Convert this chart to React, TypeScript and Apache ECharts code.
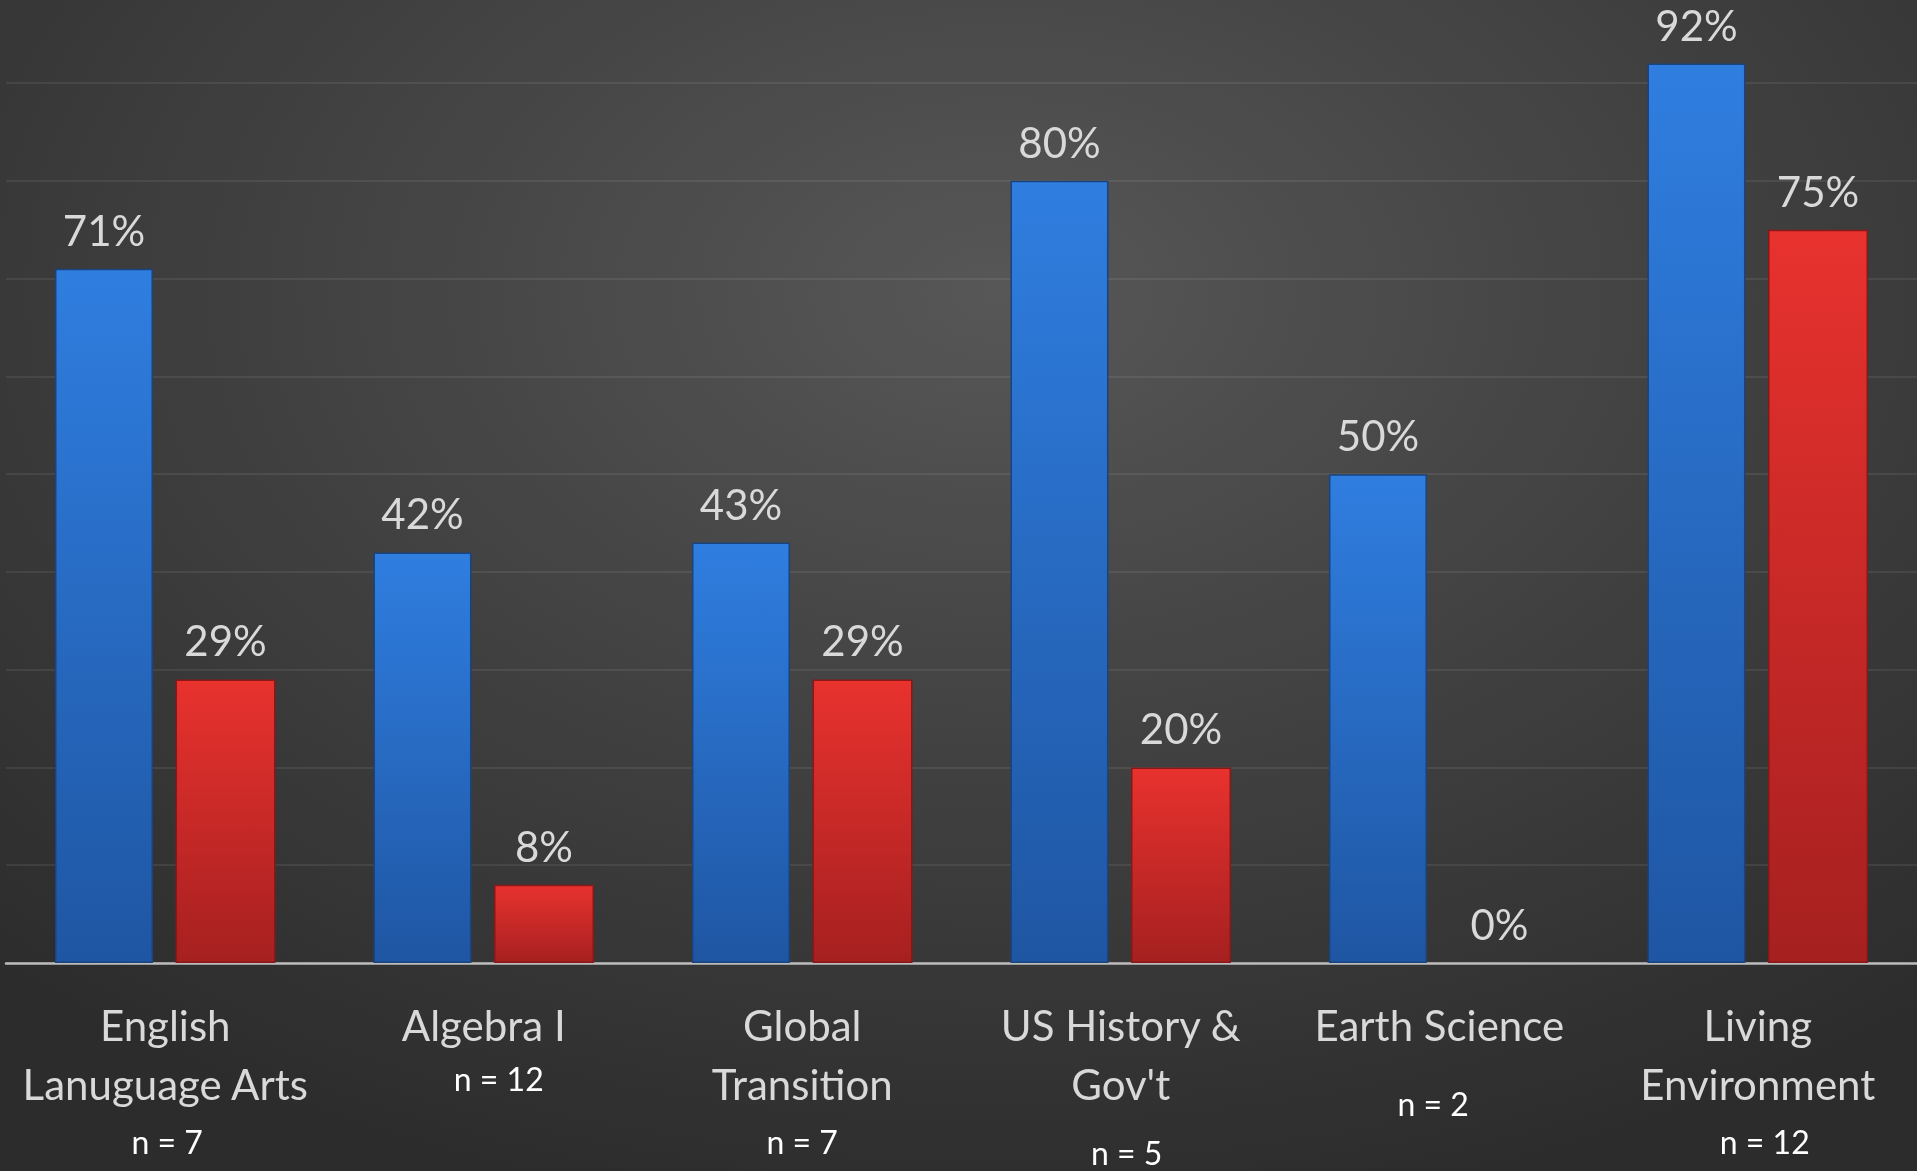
import React, { useEffect, useRef } from "react";
import * as echarts from "echarts";

const categories = ["English Lanuguage Arts", "Algebra I", "Global Transition", "US History & Gov't", "Earth Science", "Living Environment"];
const categoryLines = [["English", "Lanuguage Arts"], ["Algebra I"], ["Global", "Transition"], ["US History &", "Gov't"], ["Earth Science"], ["Living", "Environment"]];
const nLabels = ["n = 7", "n = 12", "n = 7", "n = 5", "n = 2", "n = 12"];
const blueValues = [71, 42, 43, 80, 50, 92];
const redValues = [29, 8, 29, 20, 0, 75];

const FONT = "Lato, 'Open Sans', sans-serif";

export default function App() {
  const ref = useRef<HTMLDivElement>(null);
  useEffect(() => {
    if (!ref.current) return;
    const chart = echarts.init(ref.current, undefined, { renderer: "svg" });
    const nStyle = (lineHeight: number, padding: number[]) => ({
      fontFamily: FONT,
      fontSize: 32,
      color: "#ffffff",
      lineHeight,
      padding,
    });
    const labelCfg = {
      show: true,
      position: "top",
      distance: 18,
      color: "#d9d9d9",
      fontFamily: FONT,
      fontSize: 42,
      formatter: (p: any) => `${p.value}%`,
    };
    chart.setOption({
      animation: false,
      backgroundColor: "transparent",
      grid: { left: 6, right: 0, top: 0, bottom: 208, containLabel: false },
      xAxis: {
        type: "category",
        data: categories,
        axisLine: { show: true, lineStyle: { color: "#bdbdbd", width: 2.5 } },
        axisTick: { show: false },
        axisLabel: {
          interval: 0,
          margin: 32,
          formatter: (_v: string, i: number) =>
            categoryLines[i].map((l) => `{c|${l}}`).join("\n") + `\n{n${i}|${nLabels[i]}}`,
          rich: {
            c: { fontFamily: FONT, fontSize: 42, color: "#d9d9d9", lineHeight: 59 },
            n0: nStyle(57, [0, 0, 0, 4]),
            n1: nStyle(49, [0, 0, 0, 30]),
            n2: nStyle(57, [0, 0, 0, 0]),
            n3: nStyle(79, [0, 0, 0, 12]),
            n4: nStyle(99, [0, 12, 0, 0]),
            n5: nStyle(57, [0, 0, 0, 14]),
          },
        },
      },
      yAxis: {
        type: "value",
        min: 0,
        max: 98.5,
        interval: 10,
        axisLabel: { show: false },
        axisLine: { show: false },
        axisTick: { show: false },
        splitLine: { show: true, showMaxLine: false, lineStyle: { color: "rgba(255,255,255,0.1)", width: 1.5 } },
      },
      series: [
        {
          type: "bar",
          data: blueValues,
          barWidth: 98,
          barGap: "23%",
          itemStyle: {
            color: new echarts.graphic.LinearGradient(0, 0, 0, 1, [
              { offset: 0, color: "#2f7ee0" },
              { offset: 1, color: "#1f56a3" },
            ]),
            borderColor: "#1a4480",
            borderWidth: 1.5,
          },
          label: labelCfg,
        },
        {
          type: "bar",
          data: redValues.map((v) =>
            v === 0 ? { value: v, itemStyle: { borderWidth: 0, color: "rgba(0,0,0,0)" } } : v
          ),
          barWidth: 100,
          itemStyle: {
            color: new echarts.graphic.LinearGradient(0, 0, 0, 1, [
              { offset: 0, color: "#e8322e" },
              { offset: 1, color: "#a62020" },
            ]),
            borderColor: "#8a1818",
            borderWidth: 1.5,
          },
          label: labelCfg,
        },
      ],
    });
    return () => chart.dispose();
  }, []);
  return (
    <div
      ref={ref}
      style={{
        position: "fixed",
        left: 0,
        top: 0,
        width: 1917,
        height: 1171,
        background: "radial-gradient(ellipse 75% 80% at 52% 25%, #575757 0%, #454545 40%, #2c2c2c 100%)",
      }}
    />
  );
}
